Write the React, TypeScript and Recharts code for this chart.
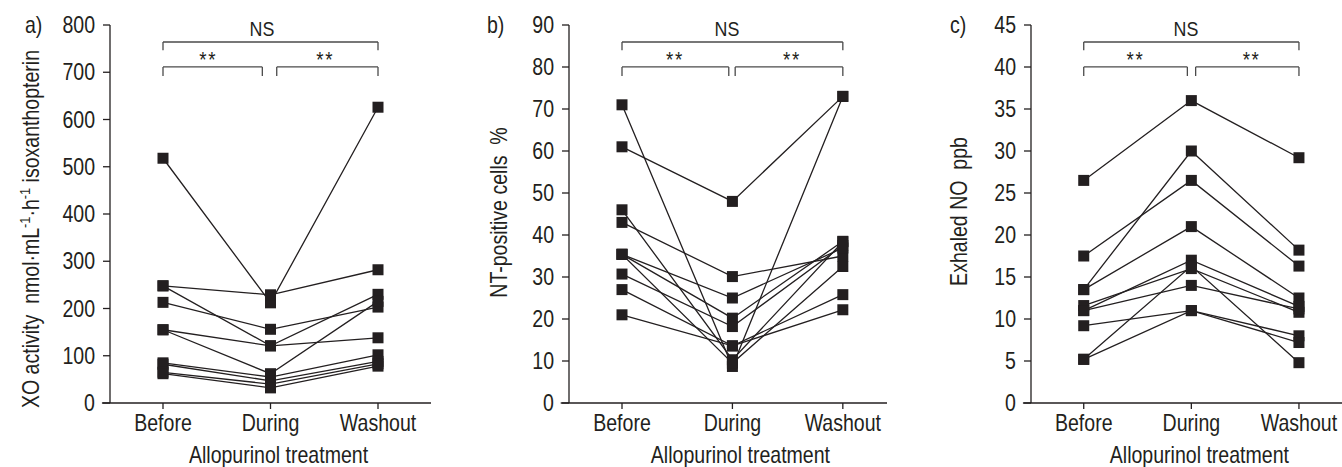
import React from 'react';
import { LineChart, Line, XAxis, YAxis, ReferenceLine, ReferenceDot } from 'recharts';

// x categories shared by the three panels
const CATEGORIES = ['Before', 'During', 'Washout'];

// a) XO activity, one entry per subject
const XO_BEFORE = [518, 248, 248, 213, 155, 155, 85, 82, 65, 62];
const XO_DURING = [212, 229, 121, 156, 121, 62, 55, 47, 40, 32];
const XO_WASHOUT = [626, 282, 230, 203, 138, 215, 102, 88, 83, 78];
const XO_TICKS = [0, 100, 200, 300, 400, 500, 600, 700, 800];

// b) NT-positive cells %
const NT_BEFORE = [71, 61, 46, 43, 35.4, 35.4, 35.4, 30.7, 27, 21];
const NT_DURING = [8.7, 48, 10.3, 30.1, 25, 20.2, 9.5, 18.2, 13.6, 13.6];
const NT_WASHOUT = [73, 73, 38.4, 35, 36.9, 38.5, 32.5, 37.5, 25.8, 22.2];
const NT_TICKS = [0, 10, 20, 30, 40, 50, 60, 70, 80, 90];

// c) Exhaled NO ppb
const NO_BEFORE = [26.5, 17.5, 13.5, 13.5, 11.0, 11.6, 11.0, 9.2, 5.2, 5.2];
const NO_DURING = [36, 26.5, 30, 21, 17, 16, 14, 11, 16.3, 11];
const NO_WASHOUT = [29.2, 16.3, 18.2, 12.5, 11.5, 10.8, 11.2, 8.0, 4.8, 7.2];
const NO_TICKS = [0, 5, 10, 15, 20, 25, 30, 35, 40, 45];

const INK = '#231f20';
const GREY = '#4a4a4a';
const FONT = '"Liberation Sans", Arial, sans-serif';
const FS = 23;
const SQUEEZE = 0.85; // condensed look of the original typeface
const H = 467;

function buildRows(before: number[], during: number[], washout: number[]) {
  const cols = [before, during, washout];
  return CATEGORIES.map((cat, i) => {
    const row: Record<string, number | string> = { pos: i, cat };
    cols[i].forEach((v, s) => { row[`s${s}`] = v; });
    return row;
  });
}

// text drawn horizontally squeezed
function NText({ x, y, anchor = 'start', dy, rotate, size = FS, children }: any) {
  return (
    <g transform={`translate(${x},${y})${rotate ? ' rotate(-90)' : ''}`}>
      <text transform={`scale(${SQUEEZE},1)`} textAnchor={anchor} dy={dy} fill={INK}
        fontSize={size} fontFamily={FONT}>{children}</text>
    </g>
  );
}

const XTick = (props: any) => (
  <NText x={props.x} y={props.y} anchor="middle" dy="0.71em">{CATEGORIES[props.payload.value]}</NText>
);
const YTick = (props: any) => (
  <NText x={props.x} y={props.y} anchor="end" dy="0.355em">{props.payload.value}</NText>
);

const squareDot = (props: any) => {
  const { cx, cy, index, dataKey } = props;
  const k = `${dataKey}-${index}`;
  if (cx == null || cy == null) return <g key={k} />;
  return <rect key={k} x={cx - 5.5} y={cy - 5.5} width={11} height={11} fill={INK} />;
};

interface PanelProps {
  letter: string;
  left: number;
  width: number;
  axisW: number;
  right: number;
  padL: number;
  padR: number;
  yMax: number;
  ticks: number[];
  rows: Record<string, number | string>[];
  nSeries: number;
  labelX: number;
  labelY: number;
  letterX: number;
  yLabel: React.ReactNode;
  inner: [number, number];
  sigX: [number, number];
  nsX: number;
}

function Panel(p: PanelProps) {
  const d0 = -p.padL;
  const d1 = 2 + p.padR;
  const lvl = (f: number) => f * p.yMax;
  const seg = (x1: number, y1: number, x2: number, y2: number, k: string, stroke = GREY) => (
    <ReferenceLine key={k} segment={[{ x: x1, y: y1 }, { x: x2, y: y2 }]}
      stroke={stroke} strokeWidth={1.3} ifOverflow="visible" />
  );
  const bracket = (xa: number, xb: number, top: number, end: number, k: string) => [
    seg(xa, lvl(end), xa, lvl(top), k + 'l'),
    seg(xa, lvl(top), xb, lvl(top), k + 't'),
    seg(xb, lvl(top), xb, lvl(end), k + 'r'),
  ];
  const note = (x: number, f: number, text: string, size: number, k: string, spacing = 0) => (
    <ReferenceDot key={k} x={x} y={lvl(f)} r={1} fill="none" stroke="none"
      label={(lp: any) => {
        const vb = lp.viewBox;
        return (
          <g transform={`translate(${vb.x + vb.width / 2},${vb.y + vb.height / 2})`}>
            <text transform={`scale(${SQUEEZE},1)`} textAnchor="middle" dy="0.355em" fill={INK}
              fontSize={size} fontFamily={FONT} letterSpacing={spacing}>{text}</text>
          </g>
        );
      }} />
  );

  return (
    <div style={{ position: 'absolute', left: p.left, top: 0 }}>
      <LineChart width={p.width} height={H} data={p.rows}
        margin={{ top: 25, right: p.right, bottom: 0, left: 0 }}>
        <XAxis type="number" dataKey="pos" domain={[d0, d1]} ticks={[0, 1, 2]}
          axisLine={false} tickLine={{ stroke: INK, strokeWidth: 1.3 }} tickSize={6} tickMargin={6}
          tick={<XTick />} height={64} interval={0}
          label={(lp: any) => {
            const vb = lp.viewBox;
            const cx = vb.x + ((1 - d0) / (d1 - d0)) * vb.width + 8;
            return <NText x={cx} y={463} anchor="middle">Allopurinol treatment</NText>;
          }} />
        <YAxis type="number" domain={[0, p.yMax]} ticks={p.ticks} interval={0}
          width={p.axisW} axisLine={{ stroke: INK, strokeWidth: 1.3 }}
          tickLine={{ stroke: INK, strokeWidth: 1.3 }} tickSize={7} tickMargin={8}
          tick={<YTick />}
          label={() => (
            <g>
              <NText x={p.letterX} y={33}>{p.letter}</NText>
              <NText x={p.labelX} y={p.labelY} anchor="middle" rotate>{p.yLabel}</NText>
            </g>
          )} />
        {seg(d0 - 0.075, 0, d1, 0, 'xaxis', INK)}
        {bracket(0, 2, 0.955, 0.933, 'ns')}
        {bracket(0, p.inner[0], 0.889, 0.865, 'b1')}
        {bracket(p.inner[1], 2, 0.889, 0.865, 'b2')}
        {note(p.nsX, 0.99, 'NS', 21, 'nst')}
        {note(p.sigX[0], 0.91, '**', 22, 's1', 2)}
        {note(p.sigX[1], 0.91, '**', 22, 's2', 2)}
        {Array.from({ length: p.nSeries }, (_, s) => (
          <Line key={s} dataKey={`s${s}`} stroke={INK} strokeWidth={1.3}
            dot={squareDot} activeDot={false} isAnimationActive={false} connectNulls={false} />
        ))}
      </LineChart>
    </div>
  );
}

const SUP = 15;

export default function App() {
  return (
    <div style={{ position: 'absolute', left: 0, top: 0, width: 1342, height: H, background: '#fff',
      overflow: 'hidden', fontFamily: FONT }}>
      <Panel letter="a)" left={0} width={440} axisW={110} right={9} padL={0.493} padR={0.493}
        yMax={800} ticks={XO_TICKS} rows={buildRows(XO_BEFORE, XO_DURING, XO_WASHOUT)}
        nSeries={XO_BEFORE.length} labelX={38.5} labelY={229} letterX={25}
        yLabel={<>{'XO activity\u00a0\u00a0nmol·mL'}<tspan baselineShift="super" fontSize={SUP}>-1</tspan>·h<tspan baselineShift="super" fontSize={SUP}>-1</tspan>{' isoxanthopterin'}</>}
        inner={[0.924, 1.058]} sigX={[0.42, 1.51]} nsX={0.92} />
      <Panel letter="b)" left={440} width={450} axisW={129} right={3} padL={0.48} padR={0.4}
        yMax={90} ticks={NT_TICKS} rows={buildRows(NT_BEFORE, NT_DURING, NT_WASHOUT)}
        nSeries={NT_BEFORE.length} labelX={66.5} labelY={212.5} letterX={47}
        yLabel={'NT-positive cells\u00a0\u00a0%'}
        inner={[0.967, 1.025]} sigX={[0.48, 1.54]} nsX={0.95} />
      <Panel letter="c)" left={890} width={452} axisW={141} right={0} padL={0.49} padR={0.4}
        yMax={45} ticks={NO_TICKS} rows={buildRows(NO_BEFORE, NO_DURING, NO_WASHOUT)}
        nSeries={NO_BEFORE.length} labelX={76.5} labelY={211.5} letterX={60}
        yLabel={'Exhaled NO\u00a0\u00a0ppb'}
        inner={[0.963, 1.04]} sigX={[0.48, 1.56]} nsX={0.95} />
    </div>
  );
}
